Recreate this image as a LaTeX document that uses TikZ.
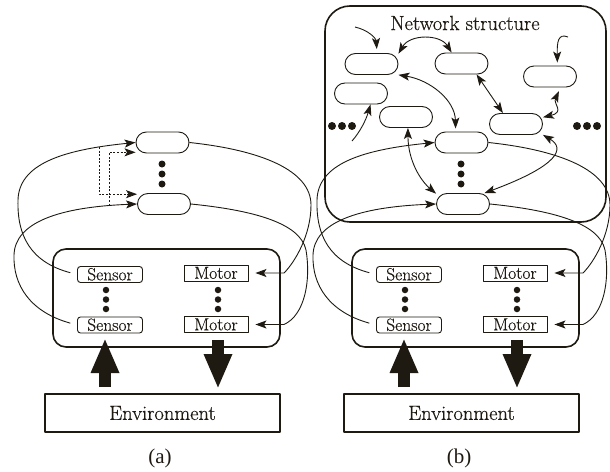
\documentclass[tikz,border=0pt]{standalone}
\usepackage{fontspec}
\setmainfont{Latin Modern Roman}[FakeBold=0.5]
\usetikzlibrary{arrows.meta}
\newfontfamily\capfont{Liberation Serif}
\definecolor{ink}{RGB}{30,26,18}

\begin{document}
\begin{tikzpicture}[x=1pt,y=-1pt,
  line join=round,
  color=ink,
  wire/.style={draw=ink, line width=0.9pt},
  oneway/.style={-{Stealth[length=11pt,width=8pt,inset=2.5pt]}},
  twoway/.style={{Stealth[length=11pt,width=8pt,inset=2.5pt]}-{Stealth[length=11pt,width=8pt,inset=2.5pt]}},
  cell/.style={draw=ink, line width=0.9pt, rounded corners=10.5pt,
    minimum width=53pt, minimum height=21pt, inner sep=0pt},
  sensorbox/.style={draw=ink, line width=0.9pt, rounded corners=3pt,
    minimum width=65pt, minimum height=16pt, inner sep=0pt,
    text height=11.5pt, text depth=0pt, font=\fontsize{17.5}{20}\selectfont},
  motorbox/.style={sensorbox, sharp corners, minimum width=64pt},
  panelbox/.style={draw=ink, line width=1.6pt, inner sep=0pt},
  bead/.style={circle, fill=ink, inner sep=0pt, minimum size=7pt},
  bigarrow/.style={draw=ink, line width=12pt, -{Triangle[length=35pt,width=26pt]}},
  dashwire/.style={wire, dash pattern=on 2pt off 1.6pt},
]
\useasboundingbox (0,0) rectangle (610,471);

% --- the agent: body, sensors, motors, two units, loops and environment ---
\foreach \p/\dx in {a/0,b/299} {
\begin{scope}[xshift=\dx pt]
  \node[panelbox, rounded corners=13pt, minimum width=227pt, minimum height=98pt]
    (\p-body) at (166.5,298) {};
  \node[sensorbox] (\p-s1) at (110,274.5) {Sensor};
  \node[sensorbox] (\p-s2) at (110,325) {Sensor};
  \node[motorbox] (\p-m1) at (216,273) {Motor};
  \node[motorbox] (\p-m2) at (216,324.5) {Motor};
  \foreach \yy in {290,299.5,309} {
    \node[bead, minimum size=6.5pt] at (106,\yy) {};
    \node[bead, minimum size=6.5pt] at (218,\yy) {};
  }
  \node[cell] (\p-n1) at (162.5,142.5) {};
  \node[cell] (\p-n2) at (164,204) {};
  \foreach \yy in {164,174,184} \node[bead] at (162,\yy) {};

  % sensor -> unit loops on the left
  \draw[wire, oneway, shorten <=7pt] (\p-s1.west)
    .. controls (30,262) and (17,235) .. (18,200)
    .. controls (19,165) and (60,150) .. (\p-n1.west);
  \draw[wire, oneway, shorten <=7pt] (\p-s2.west)
    .. controls (30,312) and (13,285) .. (14,255)
    .. controls (15,222) and (60,207) .. (\p-n2.west);
  % unit -> motor loops on the right
  \draw[wire, oneway, shorten >=7pt] (\p-n1.east)
    .. controls (260,150) and (311,170) .. (311,205)
    .. controls (311,235) and (295,262) .. (284,273) -- (\p-m1.east);
  \draw[wire, oneway, shorten >=7pt] (\p-n2.east)
    .. controls (250,210) and (300,222) .. (306,250)
    .. controls (311,280) and (305,315) .. (284,324.5) -- (\p-m2.east);

  % environment and the exchange with it
  \node[panelbox, minimum width=235pt, minimum height=38pt,
    font=\fontsize{20.5}{24}\selectfont] (\p-env) at (162.5,413) {Environment};
  \coordinate (\p-up0) at (105,387);
  \coordinate (\p-up1) at (105,338);
  \coordinate (\p-dn0) at (218,340);
  \coordinate (\p-dn1) at (218,389);
  \draw[bigarrow] (\p-up0) -- (\p-up1);
  \draw[bigarrow] (\p-dn0) -- (\p-dn1);

  \node[font=\capfont\fontsize{21}{24}\selectfont] (\p-cap) at (160,458) {(\p)};
\end{scope}
}

% --- crossed sensor feeds of the simple controller ---
\coordinate (d1) at (99,147);
\coordinate (d2) at (109,205.5);
\draw[dashwire, oneway] (d1) |- (a-n2.160);
\draw[dashwire, oneway] (d2) |- (a-n1.200);

% --- network structure around the two units ---
\node[panelbox, rounded corners=25pt, minimum width=281pt, minimum height=216pt]
  (net) at (465.5,114) {};
\node[font=\fontsize{20.5}{24}\selectfont] (title) at (465,23) {Network structure};

\node[cell] (N1) at (371.5,64) {};
\node[cell] (N2) at (461.5,63.5) {};
\node[cell] (N3) at (550,76.5) {};
\node[cell] (N4) at (361,93.5) {};
\node[cell] (N5) at (406,117) {};
\node[cell] (N6) at (516,124) {};

\foreach \xx in {332,342,352,577,587,597} \node[bead, minimum size=8pt] at (\xx,126) {};

\coordinate (e1) at (355,27);
\coordinate (e5) at (568,37);
\coordinate (e7) at (352,141);
\draw[wire, oneway, shorten >=4pt] (e1) .. controls (368,30) and (376,38) .. (N1.63);
\draw[wire, twoway] (N1.21) .. controls (410,34) and (440,34) .. (N2.132);
\draw[wire, twoway, shorten >=3pt] (N1.-22) .. controls (430,80) and (455,100) .. (b-n1.118);
\draw[wire, twoway] (N2.-36) -- (N6.140);
\draw[wire, oneway, shorten >=3pt] (e5) .. controls (558,33) and (557,42) .. (N3.56);
\draw[wire, twoway, shorten >=4pt] (N6.14) .. controls (565,112) and (553,104) .. (N3.-46);
\draw[wire, oneway] (e7) .. controls (360,132) and (366,120) .. (N4.-49);
\draw[wire, twoway] (N5.-80) .. controls (408,160) and (420,180) .. (b-n2.159);
\draw[wire, twoway] (N6.-22) .. controls (565,148) and (560,165) .. (b-n2.27);
\end{tikzpicture}
\end{document}
